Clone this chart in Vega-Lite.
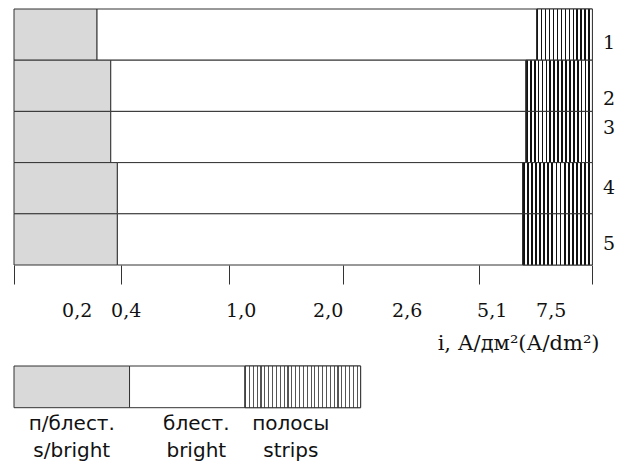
{
  "$schema": "https://vega.github.io/schema/vega-lite/v6.json",
  "padding": {"left": 13, "top": 8, "right": 0, "bottom": 0},
  "background": "#ffffff",
  "config": {"view": {"stroke": null}, "font": "DejaVu Serif"},
  "datasets": {
    "main": [
      {"row": 1, "state": "s/bright", "start": 0, "end": 0.283},
      {"row": 1, "state": "bright", "start": 0.283, "end": 6.93},
      {"row": 1, "state": "strips", "start": 6.93, "end": 9},
      {"row": 2, "state": "s/bright", "start": 0, "end": 0.339},
      {"row": 2, "state": "bright", "start": 0.339, "end": 6.495},
      {"row": 2, "state": "strips", "start": 6.495, "end": 9},
      {"row": 3, "state": "s/bright", "start": 0, "end": 0.339},
      {"row": 3, "state": "bright", "start": 0.339, "end": 6.495},
      {"row": 3, "state": "strips", "start": 6.495, "end": 9},
      {"row": 4, "state": "s/bright", "start": 0, "end": 0.366},
      {"row": 4, "state": "bright", "start": 0.366, "end": 6.361},
      {"row": 4, "state": "strips", "start": 6.361, "end": 9},
      {"row": 5, "state": "s/bright", "start": 0, "end": 0.366},
      {"row": 5, "state": "bright", "start": 0.366, "end": 6.361},
      {"row": 5, "state": "strips", "start": 6.361, "end": 9}
    ],
    "legend": [
      {"state": "s/bright", "label": "п/блест.|s/bright"},
      {"state": "bright", "label": "блест.|bright"},
      {"state": "strips", "label": "полосы|strips"}
    ]
  },
  "spacing": 12,
  "resolve": {"scale": {"x": "independent", "y": "independent"}},
  "vconcat": [
    {
      "width": 578.4,
      "height": 256,
      "data": {"name": "main"},
      "resolve": {"axis": {"x": "independent"}},
      "layer": [
        {
          "mark": {"type": "bar", "stroke": "#333333", "strokeWidth": 1},
          "encoding": {
            "x": {
              "field": "start", "type": "quantitative",
              "scale": {"domain": [0, 0.2, 0.4, 1, 2, 2.6, 5.1, 7.5, 9], "range": [0, 62.7, 111.7, 226.7, 313.7, 392.7, 477.7, 536.7, 578.4], "nice": false, "zero": false},
              "axis": {"orient": "bottom", "values": [0, 0.382, 0.941, 2.119, 4.738, 9], "labels": false, "domain": false, "ticks": true, "tickSize": 19, "tickColor": "#333333", "tickWidth": 1, "title": null, "grid": false}
            },
            "x2": {"field": "end"},
            "y": {
              "field": "row", "type": "ordinal",
              "scale": {"paddingInner": 0, "paddingOuter": 0},
              "axis": {
                "orient": "right", "ticks": false, "domain": false, "title": null,
                "labelPadding": 10, "labelFont": "DejaVu Serif", "labelFontSize": 19, "labelColor": "#111111",
                "labelAngle": 0,
                "labelOffset": {"condition": [
                  {"test": "datum.value == 1", "value": 8},
                  {"test": "datum.value == 2", "value": 13},
                  {"test": "datum.value == 3", "value": -9},
                  {"test": "datum.value == 5", "value": 5}
                ], "value": 0}
              }
            },
            "fill": {"condition": {"test": "datum.state == 's/bright'", "value": "#d9d9d9"}, "value": "#ffffff"}
          }
        },
        {
          "transform": [{"filter": "datum.state == 'strips' && datum.row == 1"}],
          "mark": {"type": "bar", "stroke": "#333333", "strokeWidth": 1, "fill": {"gradient": "linear", "x1": 0, "x2": 1, "y1": 0, "y2": 0, "stops": [
            {"offset": 0, "color": "#111111"}, {"offset": 0.0321, "color": "#111111"}, {"offset": 0.0321, "color": "#ffffff"}, {"offset": 0.0714, "color": "#ffffff"},
            {"offset": 0.0714, "color": "#111111"}, {"offset": 0.1035, "color": "#111111"}, {"offset": 0.1035, "color": "#ffffff"}, {"offset": 0.1429, "color": "#ffffff"},
            {"offset": 0.1429, "color": "#111111"}, {"offset": 0.175, "color": "#111111"}, {"offset": 0.175, "color": "#ffffff"}, {"offset": 0.2143, "color": "#ffffff"},
            {"offset": 0.2143, "color": "#111111"}, {"offset": 0.2464, "color": "#111111"}, {"offset": 0.2464, "color": "#ffffff"}, {"offset": 0.2857, "color": "#ffffff"},
            {"offset": 0.2857, "color": "#111111"}, {"offset": 0.3178, "color": "#111111"}, {"offset": 0.3178, "color": "#ffffff"}, {"offset": 0.3571, "color": "#ffffff"},
            {"offset": 0.3571, "color": "#111111"}, {"offset": 0.3892, "color": "#111111"}, {"offset": 0.3892, "color": "#ffffff"}, {"offset": 0.4286, "color": "#ffffff"},
            {"offset": 0.4286, "color": "#111111"}, {"offset": 0.4607, "color": "#111111"}, {"offset": 0.4607, "color": "#ffffff"}, {"offset": 0.5, "color": "#ffffff"},
            {"offset": 0.5, "color": "#111111"}, {"offset": 0.5321, "color": "#111111"}, {"offset": 0.5321, "color": "#ffffff"}, {"offset": 0.5714, "color": "#ffffff"},
            {"offset": 0.5714, "color": "#111111"}, {"offset": 0.6035, "color": "#111111"}, {"offset": 0.6035, "color": "#ffffff"}, {"offset": 0.6429, "color": "#ffffff"},
            {"offset": 0.6429, "color": "#111111"}, {"offset": 0.675, "color": "#111111"}, {"offset": 0.675, "color": "#ffffff"}, {"offset": 0.7143, "color": "#ffffff"},
            {"offset": 0.7143, "color": "#111111"}, {"offset": 0.7464, "color": "#111111"}, {"offset": 0.7464, "color": "#ffffff"}, {"offset": 0.7857, "color": "#ffffff"},
            {"offset": 0.7857, "color": "#111111"}, {"offset": 0.8178, "color": "#111111"}, {"offset": 0.8178, "color": "#ffffff"}, {"offset": 0.8571, "color": "#ffffff"},
            {"offset": 0.8571, "color": "#111111"}, {"offset": 0.8892, "color": "#111111"}, {"offset": 0.8892, "color": "#ffffff"}, {"offset": 0.9286, "color": "#ffffff"},
            {"offset": 0.9286, "color": "#111111"}, {"offset": 0.9607, "color": "#111111"}, {"offset": 0.9607, "color": "#ffffff"}, {"offset": 1, "color": "#ffffff"}
          ]}},
          "encoding": {
            "x": {
              "field": "start", "type": "quantitative",
              "axis": {
                "orient": "bottom",
                "values": [0.2, 0.4, 1, 2, 2.6, 5.1, 7.5], "ticks": false, "domain": false, "grid": false,
                "labelExpr": "replace(format(datum.value, '.1f'), '.', ',')",
                "labelFont": "DejaVu Serif", "labelFontSize": 19, "labelColor": "#111111", "labelPadding": 36,
                "labelFlush": false, "labelOverlap": false, "labelBound": false,
                "title": "i, А/дм²(А/dm²)", "titleFont": "DejaVu Serif", "titleFontSize": 21, "titleFontWeight": "normal",
                "titleColor": "#111111", "titleAlign": "right", "titleBaseline": "middle", "titleX": 585, "titleY": 78
              }
            },
            "x2": {"field": "end"},
            "y": {"field": "row", "type": "ordinal"}
          }
        },
        {
          "transform": [{"filter": "datum.state == 'strips' && datum.row >= 2"}],
          "mark": {"type": "bar", "stroke": "#333333", "strokeWidth": 1, "fill": {"gradient": "linear", "x1": 0, "x2": 1, "y1": 0, "y2": 0, "stops": [
            {"offset": 0, "color": "#111111"}, {"offset": 0.0265, "color": "#111111"}, {"offset": 0.0265, "color": "#ffffff"}, {"offset": 0.0588, "color": "#ffffff"},
            {"offset": 0.0588, "color": "#111111"}, {"offset": 0.0853, "color": "#111111"}, {"offset": 0.0853, "color": "#ffffff"}, {"offset": 0.1176, "color": "#ffffff"},
            {"offset": 0.1176, "color": "#111111"}, {"offset": 0.1441, "color": "#111111"}, {"offset": 0.1441, "color": "#ffffff"}, {"offset": 0.1765, "color": "#ffffff"},
            {"offset": 0.1765, "color": "#111111"}, {"offset": 0.203, "color": "#111111"}, {"offset": 0.203, "color": "#ffffff"}, {"offset": 0.2353, "color": "#ffffff"},
            {"offset": 0.2353, "color": "#111111"}, {"offset": 0.2618, "color": "#111111"}, {"offset": 0.2618, "color": "#ffffff"}, {"offset": 0.2941, "color": "#ffffff"},
            {"offset": 0.2941, "color": "#111111"}, {"offset": 0.3206, "color": "#111111"}, {"offset": 0.3206, "color": "#ffffff"}, {"offset": 0.3529, "color": "#ffffff"},
            {"offset": 0.3529, "color": "#111111"}, {"offset": 0.3794, "color": "#111111"}, {"offset": 0.3794, "color": "#ffffff"}, {"offset": 0.4118, "color": "#ffffff"},
            {"offset": 0.4118, "color": "#111111"}, {"offset": 0.4383, "color": "#111111"}, {"offset": 0.4383, "color": "#ffffff"}, {"offset": 0.4706, "color": "#ffffff"},
            {"offset": 0.4706, "color": "#111111"}, {"offset": 0.4971, "color": "#111111"}, {"offset": 0.4971, "color": "#ffffff"}, {"offset": 0.5294, "color": "#ffffff"},
            {"offset": 0.5294, "color": "#111111"}, {"offset": 0.5559, "color": "#111111"}, {"offset": 0.5559, "color": "#ffffff"}, {"offset": 0.5882, "color": "#ffffff"},
            {"offset": 0.5882, "color": "#111111"}, {"offset": 0.6147, "color": "#111111"}, {"offset": 0.6147, "color": "#ffffff"}, {"offset": 0.6471, "color": "#ffffff"},
            {"offset": 0.6471, "color": "#111111"}, {"offset": 0.6736, "color": "#111111"}, {"offset": 0.6736, "color": "#ffffff"}, {"offset": 0.7059, "color": "#ffffff"},
            {"offset": 0.7059, "color": "#111111"}, {"offset": 0.7324, "color": "#111111"}, {"offset": 0.7324, "color": "#ffffff"}, {"offset": 0.7647, "color": "#ffffff"},
            {"offset": 0.7647, "color": "#111111"}, {"offset": 0.7912, "color": "#111111"}, {"offset": 0.7912, "color": "#ffffff"}, {"offset": 0.8235, "color": "#ffffff"},
            {"offset": 0.8235, "color": "#111111"}, {"offset": 0.85, "color": "#111111"}, {"offset": 0.85, "color": "#ffffff"}, {"offset": 0.8824, "color": "#ffffff"},
            {"offset": 0.8824, "color": "#111111"}, {"offset": 0.9089, "color": "#111111"}, {"offset": 0.9089, "color": "#ffffff"}, {"offset": 0.9412, "color": "#ffffff"},
            {"offset": 0.9412, "color": "#111111"}, {"offset": 0.9677, "color": "#111111"}, {"offset": 0.9677, "color": "#ffffff"}, {"offset": 1, "color": "#ffffff"}
          ]}},
          "encoding": {
            "x": {"field": "start", "type": "quantitative", "axis": null},
            "x2": {"field": "end"},
            "y": {"field": "row", "type": "ordinal"}
          }
        }
      ]
    },
    {
      "width": 346.6,
      "height": 41.7,
      "data": {"name": "legend"},
      "layer": [
        {
          "mark": {"type": "bar", "stroke": "#333333", "strokeWidth": 1},
          "encoding": {
            "x": {
              "field": "label", "type": "nominal", "sort": null,
              "scale": {"paddingInner": 0, "paddingOuter": 0},
              "axis": {
                "orient": "bottom", "ticks": false, "domain": false, "title": null, "labelAngle": 0,
                "labelExpr": "split(datum.value, '|')",
                "labelFont": "DejaVu Sans", "labelFontSize": 20, "labelColor": "#111111",
                "labelLineHeight": 27, "labelPadding": 6,
                "labelOffset": {"condition": [
                  {"test": "datum.value == 'блест.|bright'", "value": 9},
                  {"test": "datum.value == 'полосы|strips'", "value": -12}
                ], "value": 0}
              }
            },
            "fill": {"condition": {"test": "datum.state == 's/bright'", "value": "#d9d9d9"}, "value": "#ffffff"}
          }
        },
        {
          "transform": [{"filter": "datum.state == 'strips'"}],
          "mark": {"type": "bar", "stroke": "#333333", "strokeWidth": 1, "fill": {"gradient": "linear", "x1": 0, "x2": 1, "y1": 0, "y2": 0, "stops": [
            {"offset": 0, "color": "#555555"}, {"offset": 0.0093, "color": "#555555"}, {"offset": 0.0093, "color": "#ffffff"}, {"offset": 0.0333, "color": "#ffffff"},
            {"offset": 0.0333, "color": "#555555"}, {"offset": 0.0426, "color": "#555555"}, {"offset": 0.0426, "color": "#ffffff"}, {"offset": 0.0667, "color": "#ffffff"},
            {"offset": 0.0667, "color": "#555555"}, {"offset": 0.076, "color": "#555555"}, {"offset": 0.076, "color": "#ffffff"}, {"offset": 0.1, "color": "#ffffff"},
            {"offset": 0.1, "color": "#555555"}, {"offset": 0.1093, "color": "#555555"}, {"offset": 0.1093, "color": "#ffffff"}, {"offset": 0.1333, "color": "#ffffff"},
            {"offset": 0.1333, "color": "#555555"}, {"offset": 0.1426, "color": "#555555"}, {"offset": 0.1426, "color": "#ffffff"}, {"offset": 0.1667, "color": "#ffffff"},
            {"offset": 0.1667, "color": "#555555"}, {"offset": 0.176, "color": "#555555"}, {"offset": 0.176, "color": "#ffffff"}, {"offset": 0.2, "color": "#ffffff"},
            {"offset": 0.2, "color": "#555555"}, {"offset": 0.2093, "color": "#555555"}, {"offset": 0.2093, "color": "#ffffff"}, {"offset": 0.2333, "color": "#ffffff"},
            {"offset": 0.2333, "color": "#555555"}, {"offset": 0.2426, "color": "#555555"}, {"offset": 0.2426, "color": "#ffffff"}, {"offset": 0.2667, "color": "#ffffff"},
            {"offset": 0.2667, "color": "#555555"}, {"offset": 0.276, "color": "#555555"}, {"offset": 0.276, "color": "#ffffff"}, {"offset": 0.3, "color": "#ffffff"},
            {"offset": 0.3, "color": "#555555"}, {"offset": 0.3093, "color": "#555555"}, {"offset": 0.3093, "color": "#ffffff"}, {"offset": 0.3333, "color": "#ffffff"},
            {"offset": 0.3333, "color": "#555555"}, {"offset": 0.3426, "color": "#555555"}, {"offset": 0.3426, "color": "#ffffff"}, {"offset": 0.3667, "color": "#ffffff"},
            {"offset": 0.3667, "color": "#555555"}, {"offset": 0.376, "color": "#555555"}, {"offset": 0.376, "color": "#ffffff"}, {"offset": 0.4, "color": "#ffffff"},
            {"offset": 0.4, "color": "#555555"}, {"offset": 0.4093, "color": "#555555"}, {"offset": 0.4093, "color": "#ffffff"}, {"offset": 0.4333, "color": "#ffffff"},
            {"offset": 0.4333, "color": "#555555"}, {"offset": 0.4426, "color": "#555555"}, {"offset": 0.4426, "color": "#ffffff"}, {"offset": 0.4667, "color": "#ffffff"},
            {"offset": 0.4667, "color": "#555555"}, {"offset": 0.476, "color": "#555555"}, {"offset": 0.476, "color": "#ffffff"}, {"offset": 0.5, "color": "#ffffff"},
            {"offset": 0.5, "color": "#555555"}, {"offset": 0.5093, "color": "#555555"}, {"offset": 0.5093, "color": "#ffffff"}, {"offset": 0.5333, "color": "#ffffff"},
            {"offset": 0.5333, "color": "#555555"}, {"offset": 0.5426, "color": "#555555"}, {"offset": 0.5426, "color": "#ffffff"}, {"offset": 0.5667, "color": "#ffffff"},
            {"offset": 0.5667, "color": "#555555"}, {"offset": 0.576, "color": "#555555"}, {"offset": 0.576, "color": "#ffffff"}, {"offset": 0.6, "color": "#ffffff"},
            {"offset": 0.6, "color": "#555555"}, {"offset": 0.6093, "color": "#555555"}, {"offset": 0.6093, "color": "#ffffff"}, {"offset": 0.6333, "color": "#ffffff"},
            {"offset": 0.6333, "color": "#555555"}, {"offset": 0.6426, "color": "#555555"}, {"offset": 0.6426, "color": "#ffffff"}, {"offset": 0.6667, "color": "#ffffff"},
            {"offset": 0.6667, "color": "#555555"}, {"offset": 0.676, "color": "#555555"}, {"offset": 0.676, "color": "#ffffff"}, {"offset": 0.7, "color": "#ffffff"},
            {"offset": 0.7, "color": "#555555"}, {"offset": 0.7093, "color": "#555555"}, {"offset": 0.7093, "color": "#ffffff"}, {"offset": 0.7333, "color": "#ffffff"},
            {"offset": 0.7333, "color": "#555555"}, {"offset": 0.7426, "color": "#555555"}, {"offset": 0.7426, "color": "#ffffff"}, {"offset": 0.7667, "color": "#ffffff"},
            {"offset": 0.7667, "color": "#555555"}, {"offset": 0.776, "color": "#555555"}, {"offset": 0.776, "color": "#ffffff"}, {"offset": 0.8, "color": "#ffffff"},
            {"offset": 0.8, "color": "#555555"}, {"offset": 0.8093, "color": "#555555"}, {"offset": 0.8093, "color": "#ffffff"}, {"offset": 0.8333, "color": "#ffffff"},
            {"offset": 0.8333, "color": "#555555"}, {"offset": 0.8426, "color": "#555555"}, {"offset": 0.8426, "color": "#ffffff"}, {"offset": 0.8667, "color": "#ffffff"},
            {"offset": 0.8667, "color": "#555555"}, {"offset": 0.876, "color": "#555555"}, {"offset": 0.876, "color": "#ffffff"}, {"offset": 0.9, "color": "#ffffff"},
            {"offset": 0.9, "color": "#555555"}, {"offset": 0.9093, "color": "#555555"}, {"offset": 0.9093, "color": "#ffffff"}, {"offset": 0.9333, "color": "#ffffff"},
            {"offset": 0.9333, "color": "#555555"}, {"offset": 0.9426, "color": "#555555"}, {"offset": 0.9426, "color": "#ffffff"}, {"offset": 0.9667, "color": "#ffffff"},
            {"offset": 0.9667, "color": "#555555"}, {"offset": 0.976, "color": "#555555"}, {"offset": 0.976, "color": "#ffffff"}, {"offset": 1, "color": "#ffffff"}
          ]}},
          "encoding": {
            "x": {"field": "label", "type": "nominal", "sort": null}
          }
        }
      ]
    }
  ]
}
